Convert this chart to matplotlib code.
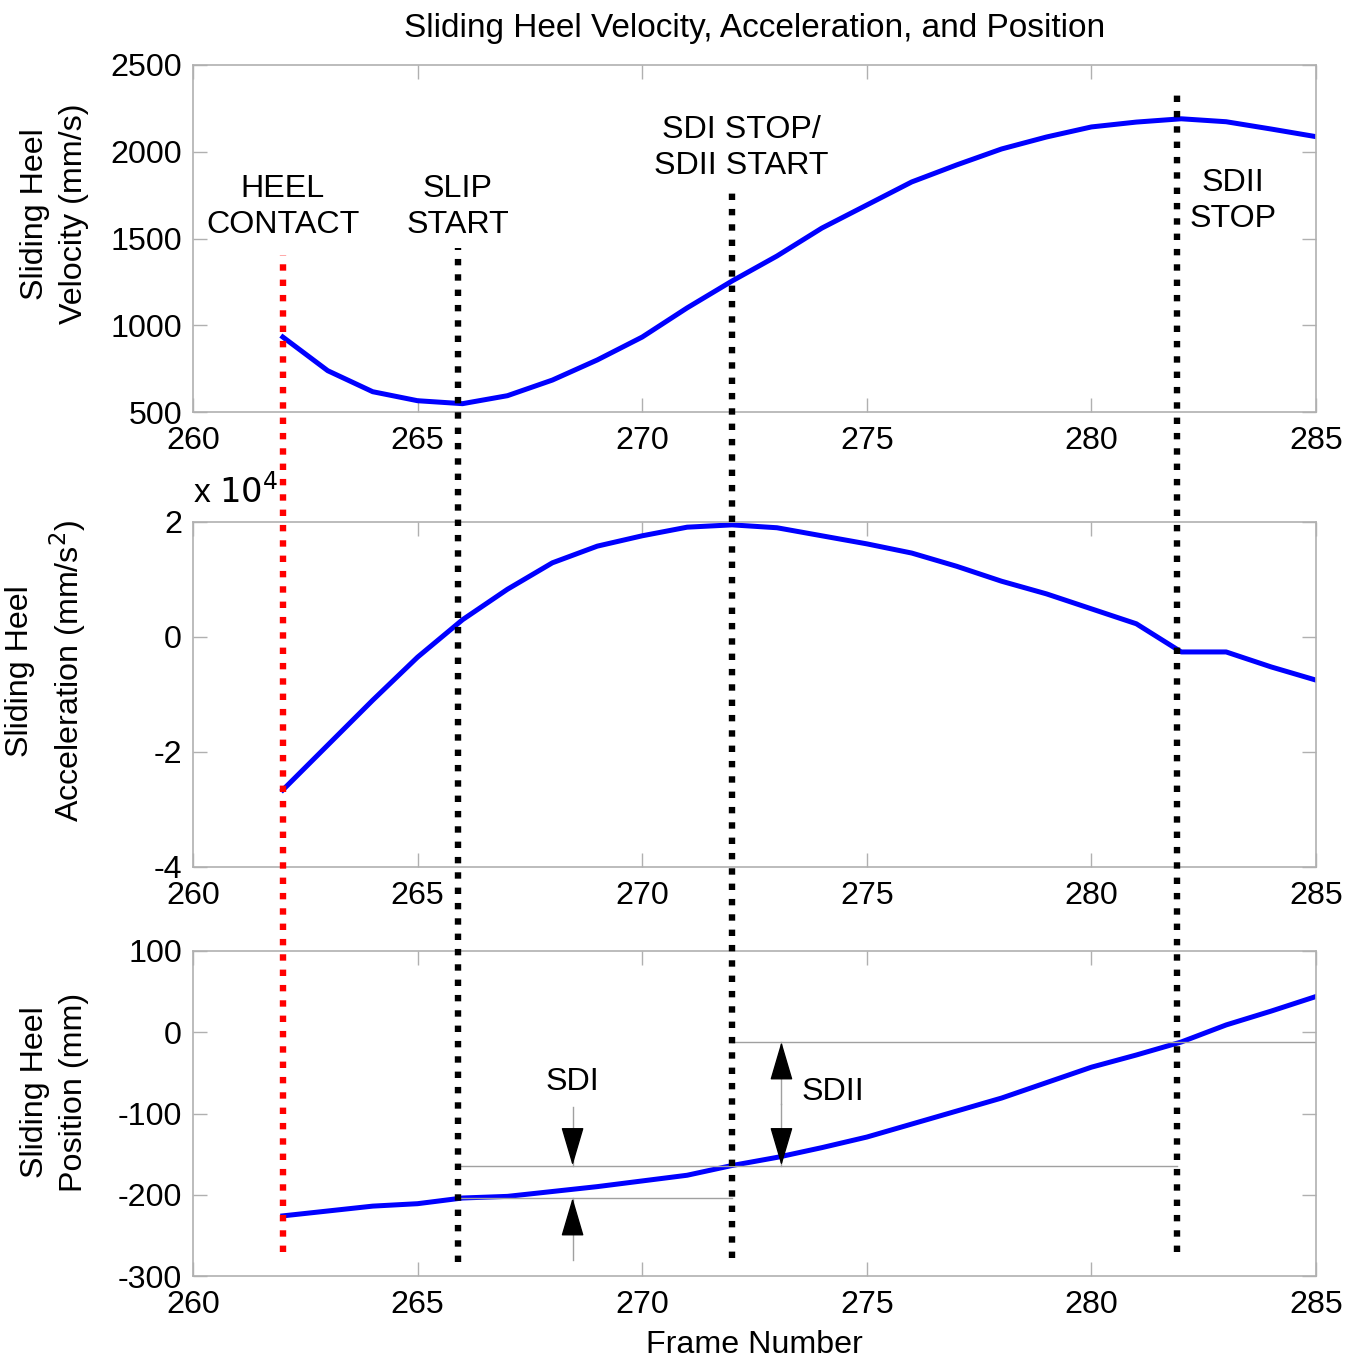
import numpy as np
import matplotlib
matplotlib.use('Agg')
import matplotlib.pyplot as plt
from matplotlib.lines import Line2D
from matplotlib.transforms import blended_transform_factory

plt.rcParams['font.family'] = ['Liberation Sans', 'DejaVu Sans']
plt.rcParams['axes.unicode_minus'] = False

# data
frames = np.arange(262, 286)
velocity = [932, 738, 617, 565, 548, 594, 684, 800, 932, 1100, 1255, 1399,
            1560, 1693, 1826, 1924, 2016, 2085, 2143, 2171, 2190, 2173, 2131, 2087]
accel = [-26600, -18800, -11000, -3500, 3000, 8300, 12900, 15800, 17600, 19100,
         19500, 19000, 17600, 16200, 14600, 12300, 9700, 7500, 4900, 2300,
         -2600, -2600, -5200, -7500]
position = [-226, -220, -214, -211, -204, -202, -196, -190, -183, -176, -164,
            -154, -142, -129, -113, -97, -81, -62, -43, -28, -12, 9, 26, 44]

events = [262, 265.9, 272, 281.9]
event_colors = ['red', 'black', 'black', 'black']
event_labels = ['HEEL\nCONTACT', 'SLIP\nSTART', 'SDI STOP/\nSDII START', 'SDII\nSTOP']
# vertical extent of the event lines (figure fraction)
event_top = [1 - 255/1361, 1 - 248/1361, 1 - 192/1361, 1 - 88/1361]
event_bot = [1 - 1252/1361, 1 - 1262/1361, 1 - 1258/1361, 1 - 1252/1361]

fs = 23.2
grey = '#b0b0b0'

fig = plt.figure(figsize=(13.63, 13.61), dpi=100)
left, width = 193/1363, 1123/1363
ax1 = fig.add_axes([left, 1 - 412/1361, width, 347/1361])
ax2 = fig.add_axes([left, 1 - 867/1361, width, 345/1361])
ax3 = fig.add_axes([left, 1 - 1276/1361, width, 325/1361])

def style(ax):
    ax.set_xlim(260, 285)
    ax.set_xticks(range(260, 286, 5))
    for s in ax.spines.values():
        s.set_color(grey)
        s.set_linewidth(1.2)
    ax.tick_params(direction='in', length=10, width=1.0, color=grey,
                   labelsize=fs, top=True, right=True, pad=8)
    ax.tick_params(axis='x', pad=10)

ax1.plot(frames, velocity, color='blue', lw=3.6)
ax1.set_ylim(500, 2500)
ax1.set_yticks(range(500, 2501, 500))
style(ax1)
ax1.set_ylabel('Sliding Heel\nVelocity (mm/s)', fontsize=fs, linespacing=1.4)
ax1.yaxis.set_label_coords(-0.0925, 0.57)
ax1.set_title('Sliding Heel Velocity, Acceleration, and Position', fontsize=24,
              pad=20)

ax2.plot(frames, np.array(accel) / 1e4, color='blue', lw=3.6)
ax2.set_ylim(-4, 2)
ax2.set_yticks([-4, -2, 0, 2])
style(ax2)
ax2.set_ylabel('Sliding Heel\nAcceleration (mm/s$^2$)', fontsize=fs, linespacing=1.4)
ax2.yaxis.set_label_coords(-0.0925, 0.568)
ax2.text(0.0, 1.035, r'x $10^4$', transform=ax2.transAxes, fontsize=fs + 1,
         ha='left', va='bottom')

ax3.plot(frames, position, color='blue', lw=3.6)
ax3.set_ylim(-300, 100)
ax3.set_yticks(range(-300, 101, 100))
style(ax3)
ax3.set_ylabel('Sliding Heel\nPosition (mm)', fontsize=fs, linespacing=1.4)
ax3.yaxis.set_label_coords(-0.0925, 0.566)
ax3.set_xlabel('Frame Number', fontsize=fs, labelpad=7)

# reference levels for slide distances
p266 = position[266 - 262]
p272 = position[272 - 262]
p282 = position[282 - 262]
ax3.plot([events[1], events[2]], [p266, p266], color='#a0a0a0', lw=1)
ax3.plot([events[1], events[3]], [p272, p272], color='#a0a0a0', lw=1)
ax3.plot([events[2], 285], [p282, p282], color='#a0a0a0', lw=1)

def arrow(ax, x, y_from, y_to):
    ax.plot([x, x], [y_from, y_to], color='#a0a0a0', lw=1)
    ax.annotate('', xy=(x, y_to), xytext=(x, y_to + (y_from - y_to) * 0.45),
                arrowprops=dict(arrowstyle='-|>,head_length=0.95,head_width=0.28',
                                color='black', lw=1, mutation_scale=26,
                                shrinkA=0, shrinkB=0))

sdi_x = 268.45
arrow(ax3, sdi_x, -92, p272)
arrow(ax3, sdi_x, -280, p266)
ax3.text(sdi_x, -61, 'SDI', fontsize=fs, ha='center', va='center')

sdii_x = 273.1
arrow(ax3, sdii_x, (p272 + p282) / 2, p282)
arrow(ax3, sdii_x, (p272 + p282) / 2, p272)
ax3.text(274.25, -73, 'SDII', fontsize=fs, ha='center', va='center')

# event lines spanning all panels
trans = blended_transform_factory(ax3.transData, fig.transFigure)
for x, c, t, b in zip(events, event_colors, event_top, event_bot):
    fig.add_artist(Line2D([x, x], [b, t], transform=trans, color=c, lw=4.6,
                          linestyle=(0, (1, 1.4)), dash_capstyle='butt'))

label_x = [262.0, 265.9, 272.2, 283.15]
label_y = [1 - 207/1361, 1 - 207/1361, 1 - 148/1361, 1 - 201/1361]
for x, y, s in zip(label_x, label_y, event_labels):
    fig.text(x, y, s, transform=trans, fontsize=fs, ha='center', va='center',
             linespacing=1.25)

fig.savefig('out.png', dpi=100)
